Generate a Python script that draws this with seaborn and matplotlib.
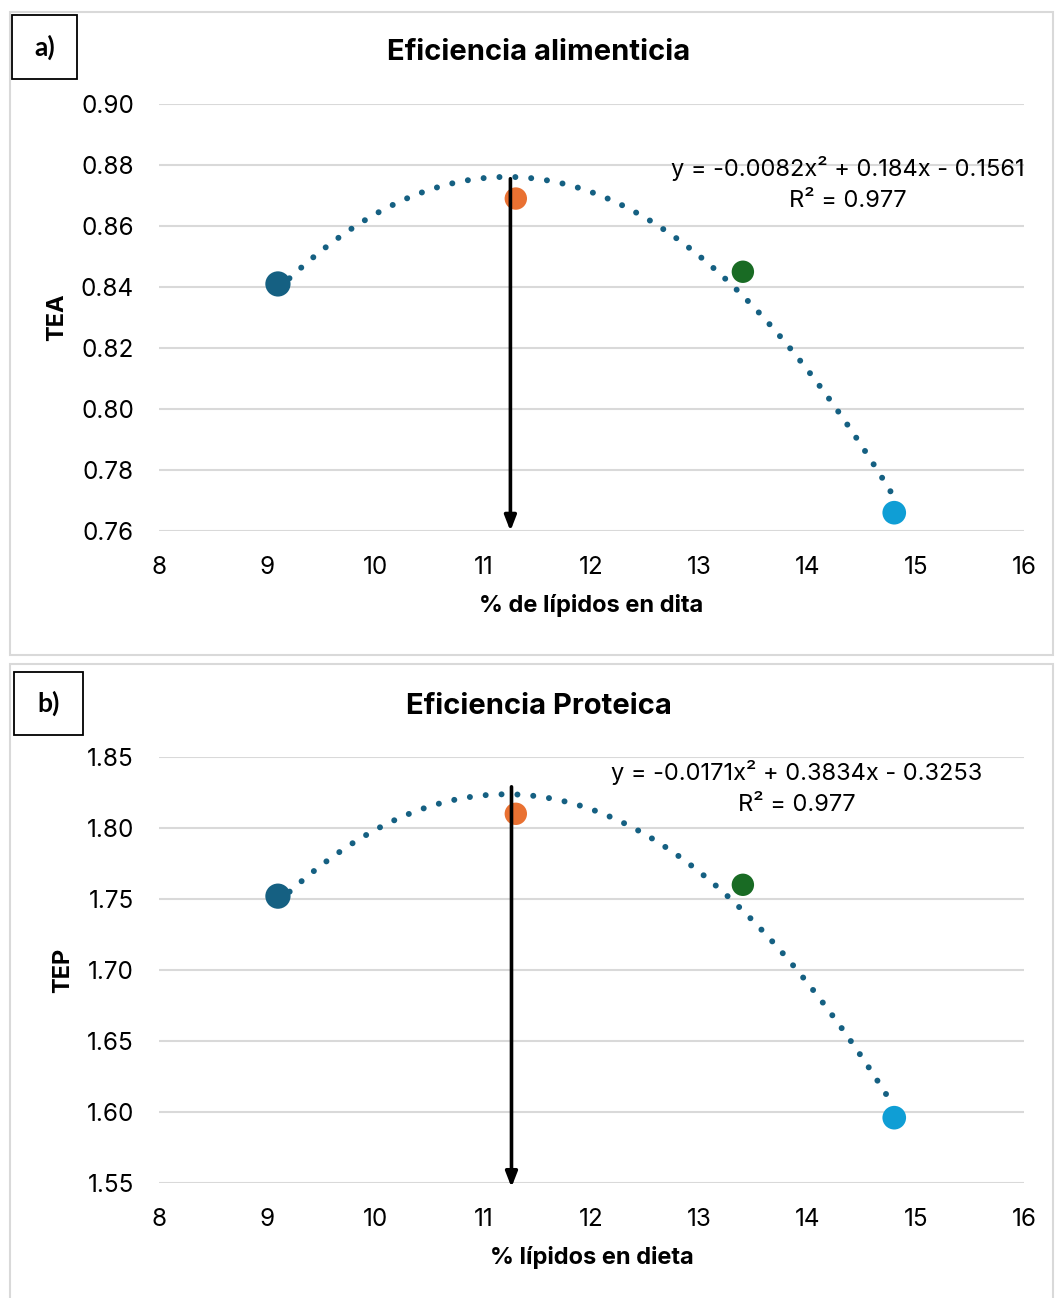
import numpy as np
import pandas as pd
import matplotlib
matplotlib.use("Agg")
import matplotlib.pyplot as plt
from matplotlib.patches import Rectangle
import seaborn as sns

# ===============================
# data
# ===============================

lipidos = [9.1, 11.3, 13.4, 14.8]
tea = [0.841, 0.869, 0.845, 0.766]
tep = [1.752, 1.810, 1.760, 1.596]
point_colors = ["#156082", "#E97132", "#196B24", "#0F9ED5"]

# trend-line coefficients shown on the chart (x^2, x, const)
coef_tea = [-0.0082, 0.184, -0.1561]
coef_tep = [-0.0171, 0.3834, -0.3253]
r2_tea = 0.977
r2_tep = 0.977
optimo = [11.25, 11.26]   # x of the arrows

panels = [
    dict(tag="a)", title="Eficiencia alimenticia", ylabel="TEA",
         xlabel="% de lípidos en dita", y=tea, coef=coef_tea, r2=r2_tea,
         ylim=(0.76, 0.90), yticks=np.arange(0.76, 0.9001, 0.02), fmt="{:.2f}",
         arrow_x=optimo[0], arrow_top=0.8755, arrow_bot=0.76,
         eq_xy=(848, 168), tag_box=(12, 15, 65, 64), title_y=53,
         frame=(10, 12, 1043, 643), rect=(159, 104, 1024, 531)),
    dict(tag="b)", title="Eficiencia Proteica", ylabel="TEP",
         xlabel="% lípidos en dieta", y=tep, coef=coef_tep, r2=r2_tep,
         ylim=(1.55, 1.85), yticks=np.arange(1.55, 1.8501, 0.05), fmt="{:.2f}",
         arrow_x=optimo[1], arrow_top=1.829, arrow_bot=1.547,
         eq_xy=(797, 772), tag_box=(14, 672, 69, 63), title_y=706,
         frame=(10, 664, 1043, 640), rect=(159, 757, 1024, 1183)),
]

W, H = 1055, 1298
plt.rcParams["font.family"] = ["Inter", "DejaVu Sans"]
fig = plt.figure(figsize=(W / 100, H / 100), dpi=100)

for p in panels:
    # panel frame
    fx, fy, fw, fh = p["frame"]
    fig.patches.append(Rectangle((fx / W, 1 - (fy + fh) / H), fw / W, fh / H,
                                 transform=fig.transFigure, fill=False,
                                 edgecolor="#d9d9d9", linewidth=1.5))
    # tag box
    bx, by, bw, bh = p["tag_box"]
    fig.patches.append(Rectangle((bx / W, 1 - (by + bh) / H), bw / W, bh / H,
                                 transform=fig.transFigure, fill=False,
                                 edgecolor="black", linewidth=1.3))
    fig.text((bx + bw / 2) / W, 1 - (by + bh / 2) / H, p["tag"],
             ha="center", va="center", fontsize=19, fontweight="bold",
             family=["Lato", "DejaVu Sans"])
    fig.text(539 / W, 1 - p["title_y"] / H, p["title"], ha="center",
             va="center", fontsize=21, fontweight="bold")

    l, t, r, b = p["rect"]
    ax = fig.add_axes([l / W, 1 - b / H, (r - l) / W, (b - t) / H])

    # trend line
    xs = np.linspace(lipidos[0], lipidos[-1], 200)
    trend = pd.DataFrame({"x": xs, "y": np.polyval(p["coef"], xs)})
    sns.lineplot(data=trend, x="x", y="y", ax=ax, color="#156082",
                 linewidth=4.3, linestyle=(0, (0.01, 2.65)),
                 dash_capstyle="round", zorder=2)

    pts = pd.DataFrame({"x": lipidos, "y": p["y"], "g": [str(v) for v in lipidos]})
    sns.scatterplot(data=pts, x="x", y="y", hue="g", palette=point_colors,
                    size="g", sizes=[330, 260, 260, 290], linewidth=0,
                    legend=False, ax=ax, zorder=3)

    ax.annotate("", xy=(p["arrow_x"], p["arrow_bot"]),
                xytext=(p["arrow_x"], p["arrow_top"]),
                arrowprops=dict(arrowstyle="-|>,head_length=0.9,head_width=0.35",
                                color="black", lw=2.6, shrinkA=0, shrinkB=0),
                annotation_clip=False, zorder=4)

    c = p["coef"]
    eq = f"y = {c[0]}x² + {c[1]}x - {abs(c[2])}\nR² = {p['r2']}"
    ex, ey = p["eq_xy"]
    ax.text(ex / W, 1 - (ey - 12) / H, eq, transform=fig.transFigure,
            ha="center", va="top", fontsize=17, linespacing=1.55,
            multialignment="center")

    ax.set_xlim(8, 16)
    ax.set_xticks(range(8, 17))
    ax.set_ylim(*p["ylim"])
    ax.set_yticks(p["yticks"])
    ax.set_yticklabels([p["fmt"].format(v) for v in p["yticks"]])
    ax.grid(axis="y", color="#d9d9d9", linewidth=1.5)
    ax.grid(axis="x", visible=False)
    ax.set_axisbelow(True)
    for s in ax.spines.values():
        s.set_visible(False)
    ax.tick_params(length=0, labelsize=17.5, colors="black")
    ax.tick_params(axis="y", pad=18)
    ax.tick_params(axis="x", pad=18)
    ax.set_facecolor("none")
    ax.set_xlabel(p["xlabel"], fontsize=17, fontweight="bold", labelpad=11)
    ax.set_ylabel(p["ylabel"], fontsize=17, fontweight="bold", labelpad=9)

fig.savefig("out.png", dpi=100, facecolor="white")
